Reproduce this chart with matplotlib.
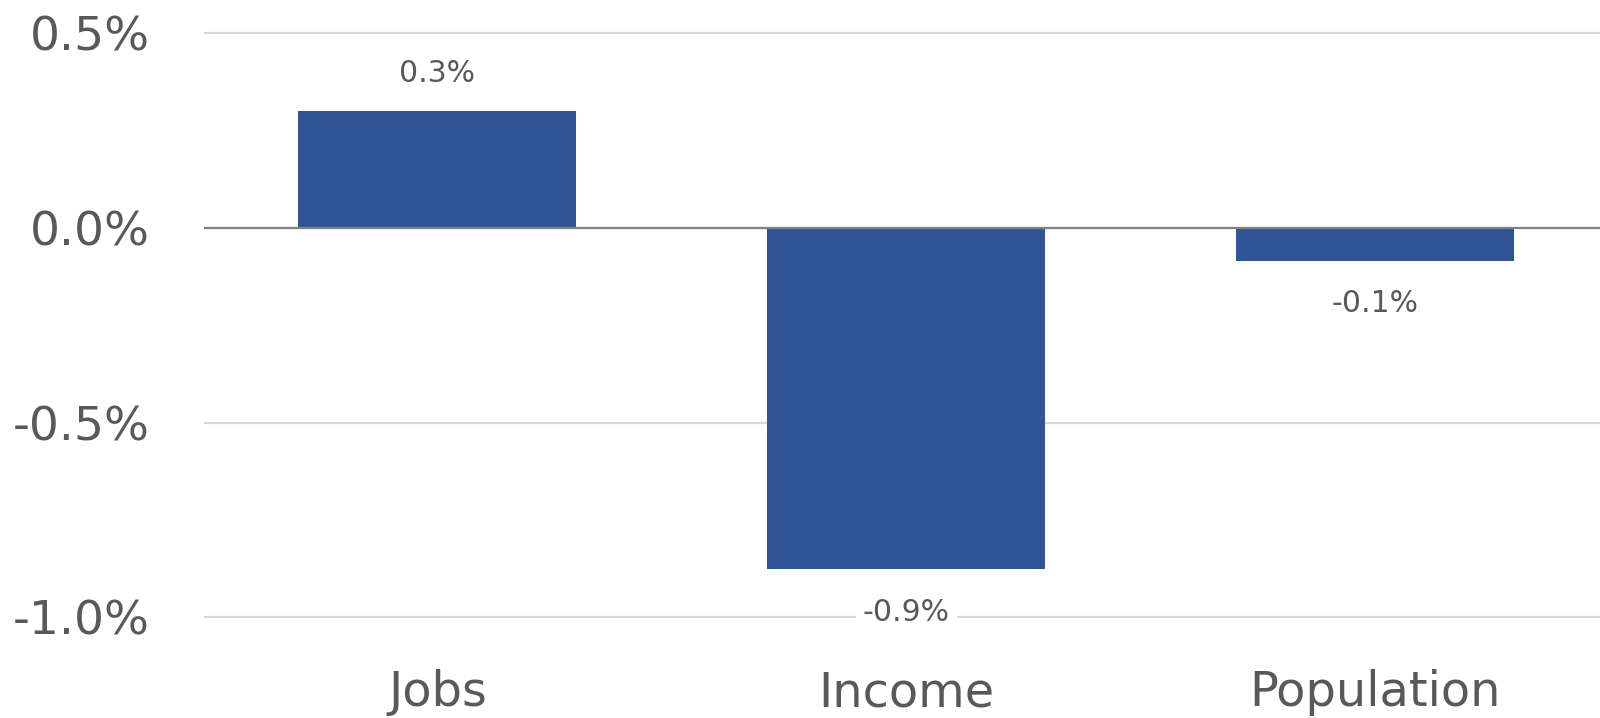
import matplotlib.pyplot as plt
from matplotlib.ticker import FuncFormatter

plt.rcParams["font.family"] = ["DejaVu Sans"]

# Datos
categories = ["Jobs", "Income", "Population"]
values = [0.300, -0.877, -0.085]
labels = ["0.3%", "-0.9%", "-0.1%"]
yticks = [0.5, 0.0, -0.5, -1.0]

BAR = "#2F5597"
TEXT = "#595959"

fig = plt.figure(figsize=(16, 7.18), dpi=100)
ax = fig.add_axes([204 / 1600, 1 - 640 / 718, 1 - 204 / 1600, 620 / 718])

x = range(len(categories))
bars = ax.bar(x, values, width=0.593, color=BAR, zorder=3)

# Etiquetas de datos
for rect, val, lab in zip(bars, values, labels):
    offset = 27 if val >= 0 else -31
    t = ax.annotate(
        lab,
        xy=(rect.get_x() + rect.get_width() / 2, val),
        xytext=(0, offset),
        textcoords="offset points",
        ha="center",
        va="center",
        fontsize=21.5,
        color=TEXT,
        zorder=5,
    )
    t.set_bbox(dict(facecolor="white", edgecolor="none", pad=5))

ax.axhline(0, color="#808080", linewidth=1.6, zorder=4)

ax.set_xlim(-0.498, 2.48)
ax.set_ylim(-1.058, 0.533)
ax.set_yticks(yticks)
ax.yaxis.set_major_formatter(FuncFormatter(lambda v, _: f"{v:.1f}%"))
ax.grid(axis="y", color="#d9d9d9", linewidth=1.6, zorder=0)

ax.set_xticks(list(x))
ax.set_xticklabels(categories)
ax.tick_params(axis="y", length=0, pad=39, labelsize=34, labelcolor=TEXT)
ax.tick_params(axis="x", length=0, pad=21, labelsize=34.5, labelcolor=TEXT)

for s in ax.spines.values():
    s.set_visible(False)

fig.savefig("out.png", dpi=100)
